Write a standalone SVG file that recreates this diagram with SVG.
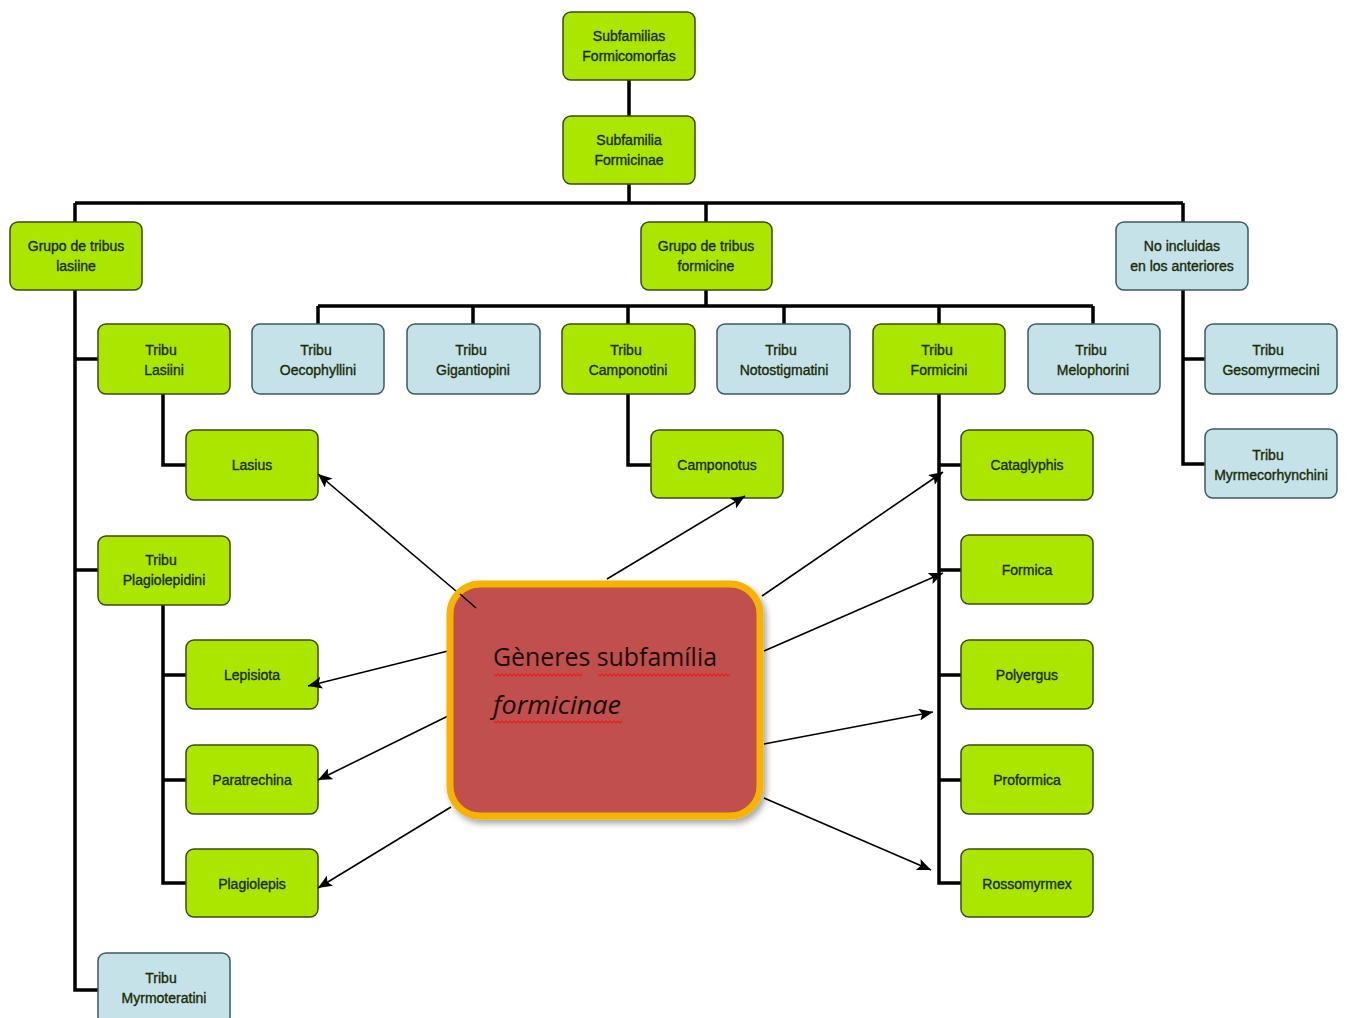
<svg xmlns="http://www.w3.org/2000/svg" width="1349" height="1018" viewBox="0 0 1349 1018">
<style>
.g{fill:#aae600;stroke:#3c4a10;stroke-width:1.5}
.b{fill:#c4e2e8;stroke:#3c5a60;stroke-width:1.5}
.t{font-family:"Liberation Sans",Arial,sans-serif;font-size:14px;fill:#1a2a05;stroke:#1a2a05;stroke-width:0.35;text-anchor:middle}
.c{fill:none;stroke:#000;stroke-width:3.5}
.a{fill:none;stroke:#000;stroke-width:1.6;marker-end:url(#ah)}
.w{fill:none;stroke:#e8201a;stroke-width:1.1}
</style>
<defs>
<marker id="ah" viewBox="0 0 14 12" refX="14" refY="6" markerWidth="14" markerHeight="12" markerUnits="userSpaceOnUse" orient="auto">
<path d="M0,0 L14,6 L0,12 L3,6 Z" fill="#000"/>
</marker>
<filter id="sh" x="-10%" y="-10%" width="130%" height="130%">
<feDropShadow dx="3" dy="4" stdDeviation="3" flood-color="#000" flood-opacity="0.35"/>
</filter>
</defs>
<rect width="1349" height="1018" fill="#fff"/>
<g id="connectors">
<path class="c" d="M629,80 V116 M629,184 V203 M75,203 H1183 M75,203 V222 M706,203 V222 M1183,203 V222"/>
<path class="c" d="M706,290 V306 M318,306 H1093 M318,306 V324 M473,306 V324 M628,306 V324 M784,306 V324 M939,306 V324 M1093,306 V324"/>
<path class="c" d="M75,290 V990 H98 M75,359 H98 M75,570 H98"/>
<path class="c" d="M163,394 V465 H186"/>
<path class="c" d="M163,605 V883 H186 M163,675 H186 M163,780 H186"/>
<path class="c" d="M628,394 V465 H651"/>
<path class="c" d="M939,394 V883 H961 M939,465 H961 M939,570 H961 M939,675 H961 M939,780 H961"/>
<path class="c" d="M1183,290 V464 H1205 M1183,359 H1205"/>
</g>
<g id="n1"><rect class="g" x="563" y="12" width="132" height="68" rx="8"/><text class="t" x="629" y="41">Subfamilias</text><text class="t" x="629" y="61">Formicomorfas</text></g>
<g id="n2"><rect class="g" x="563" y="116" width="132" height="68" rx="8"/><text class="t" x="629" y="145">Subfamilia</text><text class="t" x="629" y="165">Formicinae</text></g>
<g id="n3"><rect class="g" x="10" y="222" width="132" height="68" rx="8"/><text class="t" x="76" y="251">Grupo de tribus</text><text class="t" x="76" y="271">lasiine</text></g>
<g id="n4"><rect class="g" x="641" y="222" width="131" height="68" rx="8"/><text class="t" x="706" y="251">Grupo de tribus</text><text class="t" x="706" y="271">formicine</text></g>
<g id="n5"><rect class="b" x="1116" y="222" width="132" height="68" rx="8"/><text class="t" x="1182" y="251">No incluidas</text><text class="t" x="1182" y="271">en los anteriores</text></g>
<g id="n6"><rect class="g" x="98" y="324" width="132" height="70" rx="8"/><text class="t" x="161" y="355">Tribu</text><text class="t" x="164" y="375">Lasiini</text></g>
<g id="n7"><rect class="b" x="252" y="324" width="132" height="70" rx="8"/><text class="t" x="316" y="355">Tribu</text><text class="t" x="318" y="375">Oecophyllini</text></g>
<g id="n8"><rect class="b" x="407" y="324" width="133" height="70" rx="8"/><text class="t" x="471" y="355">Tribu</text><text class="t" x="473" y="375">Gigantiopini</text></g>
<g id="n9"><rect class="g" x="562" y="324" width="133" height="70" rx="8"/><text class="t" x="626" y="355">Tribu</text><text class="t" x="628" y="375">Camponotini</text></g>
<g id="n10"><rect class="b" x="717" y="324" width="133" height="70" rx="8"/><text class="t" x="781" y="355">Tribu</text><text class="t" x="784" y="375">Notostigmatini</text></g>
<g id="n11"><rect class="g" x="873" y="324" width="132" height="70" rx="8"/><text class="t" x="937" y="355">Tribu</text><text class="t" x="939" y="375">Formicini</text></g>
<g id="n12"><rect class="b" x="1028" y="324" width="132" height="70" rx="8"/><text class="t" x="1091" y="355">Tribu</text><text class="t" x="1093" y="375">Melophorini</text></g>
<g id="n13"><rect class="b" x="1205" y="324" width="132" height="70" rx="8"/><text class="t" x="1268" y="355">Tribu</text><text class="t" x="1271" y="375">Gesomyrmecini</text></g>
<g id="n14"><rect class="b" x="1205" y="429" width="132" height="69" rx="8"/><text class="t" x="1268" y="460">Tribu</text><text class="t" x="1271" y="480">Myrmecorhynchini</text></g>
<g id="n15"><rect class="g" x="186" y="430" width="132" height="70" rx="8"/><text class="t" x="252" y="470">Lasius</text></g>
<g id="n16"><rect class="g" x="651" y="430" width="132" height="68" rx="8"/><text class="t" x="717" y="470">Camponotus</text></g>
<g id="n17"><rect class="g" x="98" y="536" width="132" height="69" rx="8"/><text class="t" x="161" y="565">Tribu</text><text class="t" x="164" y="585">Plagiolepidini</text></g>
<g id="n18"><rect class="g" x="186" y="640" width="132" height="69" rx="8"/><text class="t" x="252" y="680">Lepisiota</text></g>
<g id="n19"><rect class="g" x="186" y="745" width="132" height="69" rx="8"/><text class="t" x="252" y="785">Paratrechina</text></g>
<g id="n20"><rect class="g" x="186" y="849" width="132" height="68" rx="8"/><text class="t" x="252" y="889">Plagiolepis</text></g>
<g id="n21"><rect class="b" x="98" y="953" width="132" height="72" rx="8"/><text class="t" x="161" y="983">Tribu</text><text class="t" x="164" y="1003">Myrmoteratini</text></g>
<g id="n22"><rect class="g" x="961" y="430" width="132" height="70" rx="8"/><text class="t" x="1027" y="470">Cataglyphis</text></g>
<g id="n23"><rect class="g" x="961" y="535" width="132" height="69" rx="8"/><text class="t" x="1027" y="575">Formica</text></g>
<g id="n24"><rect class="g" x="961" y="640" width="132" height="69" rx="8"/><text class="t" x="1027" y="680">Polyergus</text></g>
<g id="n25"><rect class="g" x="961" y="745" width="132" height="69" rx="8"/><text class="t" x="1027" y="785">Proformica</text></g>
<g id="n26"><rect class="g" x="961" y="849" width="132" height="68" rx="8"/><text class="t" x="1027" y="889">Rossomyrmex</text></g>
<g id="arrows">
<line class="a" x1="476" y1="608" x2="318" y2="474"/>
<line class="a" x1="607" y1="579" x2="745" y2="496"/>
<line class="a" x1="762" y1="596" x2="943" y2="472"/>
<line class="a" x1="764" y1="651" x2="943" y2="573"/>
<line class="a" x1="764" y1="744" x2="933" y2="712"/>
<line class="a" x1="764" y1="798" x2="931" y2="870"/>
<line class="a" x1="448" y1="651" x2="308" y2="686"/>
<line class="a" x1="448" y1="716" x2="318" y2="780"/>
<line class="a" x1="451" y1="807" x2="318" y2="888"/>
</g>
<g id="center">
<rect x="450" y="584" width="310" height="232" rx="30" fill="#c0504d" stroke="#f5b400" stroke-width="7" filter="url(#sh)"/>
<text x="493" y="666" font-family="'Open Sans','Noto Sans',sans-serif" font-size="26" fill="#1a0a0a" textLength="224" lengthAdjust="spacingAndGlyphs">Gèneres subfamília</text>
<text x="493" y="714" font-family="'Open Sans','Noto Sans',sans-serif" font-size="26" font-style="italic" fill="#1a0a0a" textLength="128" lengthAdjust="spacingAndGlyphs">formicinae</text>
<path class="w" d="M494,674 l2,2 l2,-2 l2,2 l2,-2 l2,2 l2,-2 l2,2 l2,-2 l2,2 l2,-2 l2,2 l2,-2 l2,2 l2,-2 l2,2 l2,-2 l2,2 l2,-2 l2,2 l2,-2 l2,2 l2,-2 l2,2 l2,-2 l2,2 l2,-2 l2,2 l2,-2 l2,2 l2,-2 l2,2 l2,-2 l2,2 l2,-2 l2,2 l2,-2 l2,2 l2,-2 l2,2 l2,-2 l2,2 l2,-2 l2,2 l2,-2"/>
<path class="w" d="M598,674 l2,2 l2,-2 l2,2 l2,-2 l2,2 l2,-2 l2,2 l2,-2 l2,2 l2,-2 l2,2 l2,-2 l2,2 l2,-2 l2,2 l2,-2 l2,2 l2,-2 l2,2 l2,-2 l2,2 l2,-2 l2,2 l2,-2 l2,2 l2,-2 l2,2 l2,-2 l2,2 l2,-2 l2,2 l2,-2 l2,2 l2,-2 l2,2 l2,-2 l2,2 l2,-2 l2,2 l2,-2 l2,2 l2,-2 l2,2 l2,-2 l2,2 l2,-2 l2,2 l2,-2 l2,2 l2,-2 l2,2 l2,-2 l2,2 l2,-2 l2,2 l2,-2 l2,2 l2,-2 l2,2 l2,-2 l2,2 l2,-2 l2,2 l2,-2 l2,2 l2,-2"/>
<path class="w" d="M494,721 l2,2 l2,-2 l2,2 l2,-2 l2,2 l2,-2 l2,2 l2,-2 l2,2 l2,-2 l2,2 l2,-2 l2,2 l2,-2 l2,2 l2,-2 l2,2 l2,-2 l2,2 l2,-2 l2,2 l2,-2 l2,2 l2,-2 l2,2 l2,-2 l2,2 l2,-2 l2,2 l2,-2 l2,2 l2,-2 l2,2 l2,-2 l2,2 l2,-2 l2,2 l2,-2 l2,2 l2,-2 l2,2 l2,-2 l2,2 l2,-2 l2,2 l2,-2 l2,2 l2,-2 l2,2 l2,-2 l2,2 l2,-2 l2,2 l2,-2 l2,2 l2,-2 l2,2 l2,-2 l2,2 l2,-2 l2,2 l2,-2 l2,2 l2,-2"/>
<line x1="460" y1="594" x2="476" y2="608" stroke="#000" stroke-width="1.6"/>
</g>
</svg>
